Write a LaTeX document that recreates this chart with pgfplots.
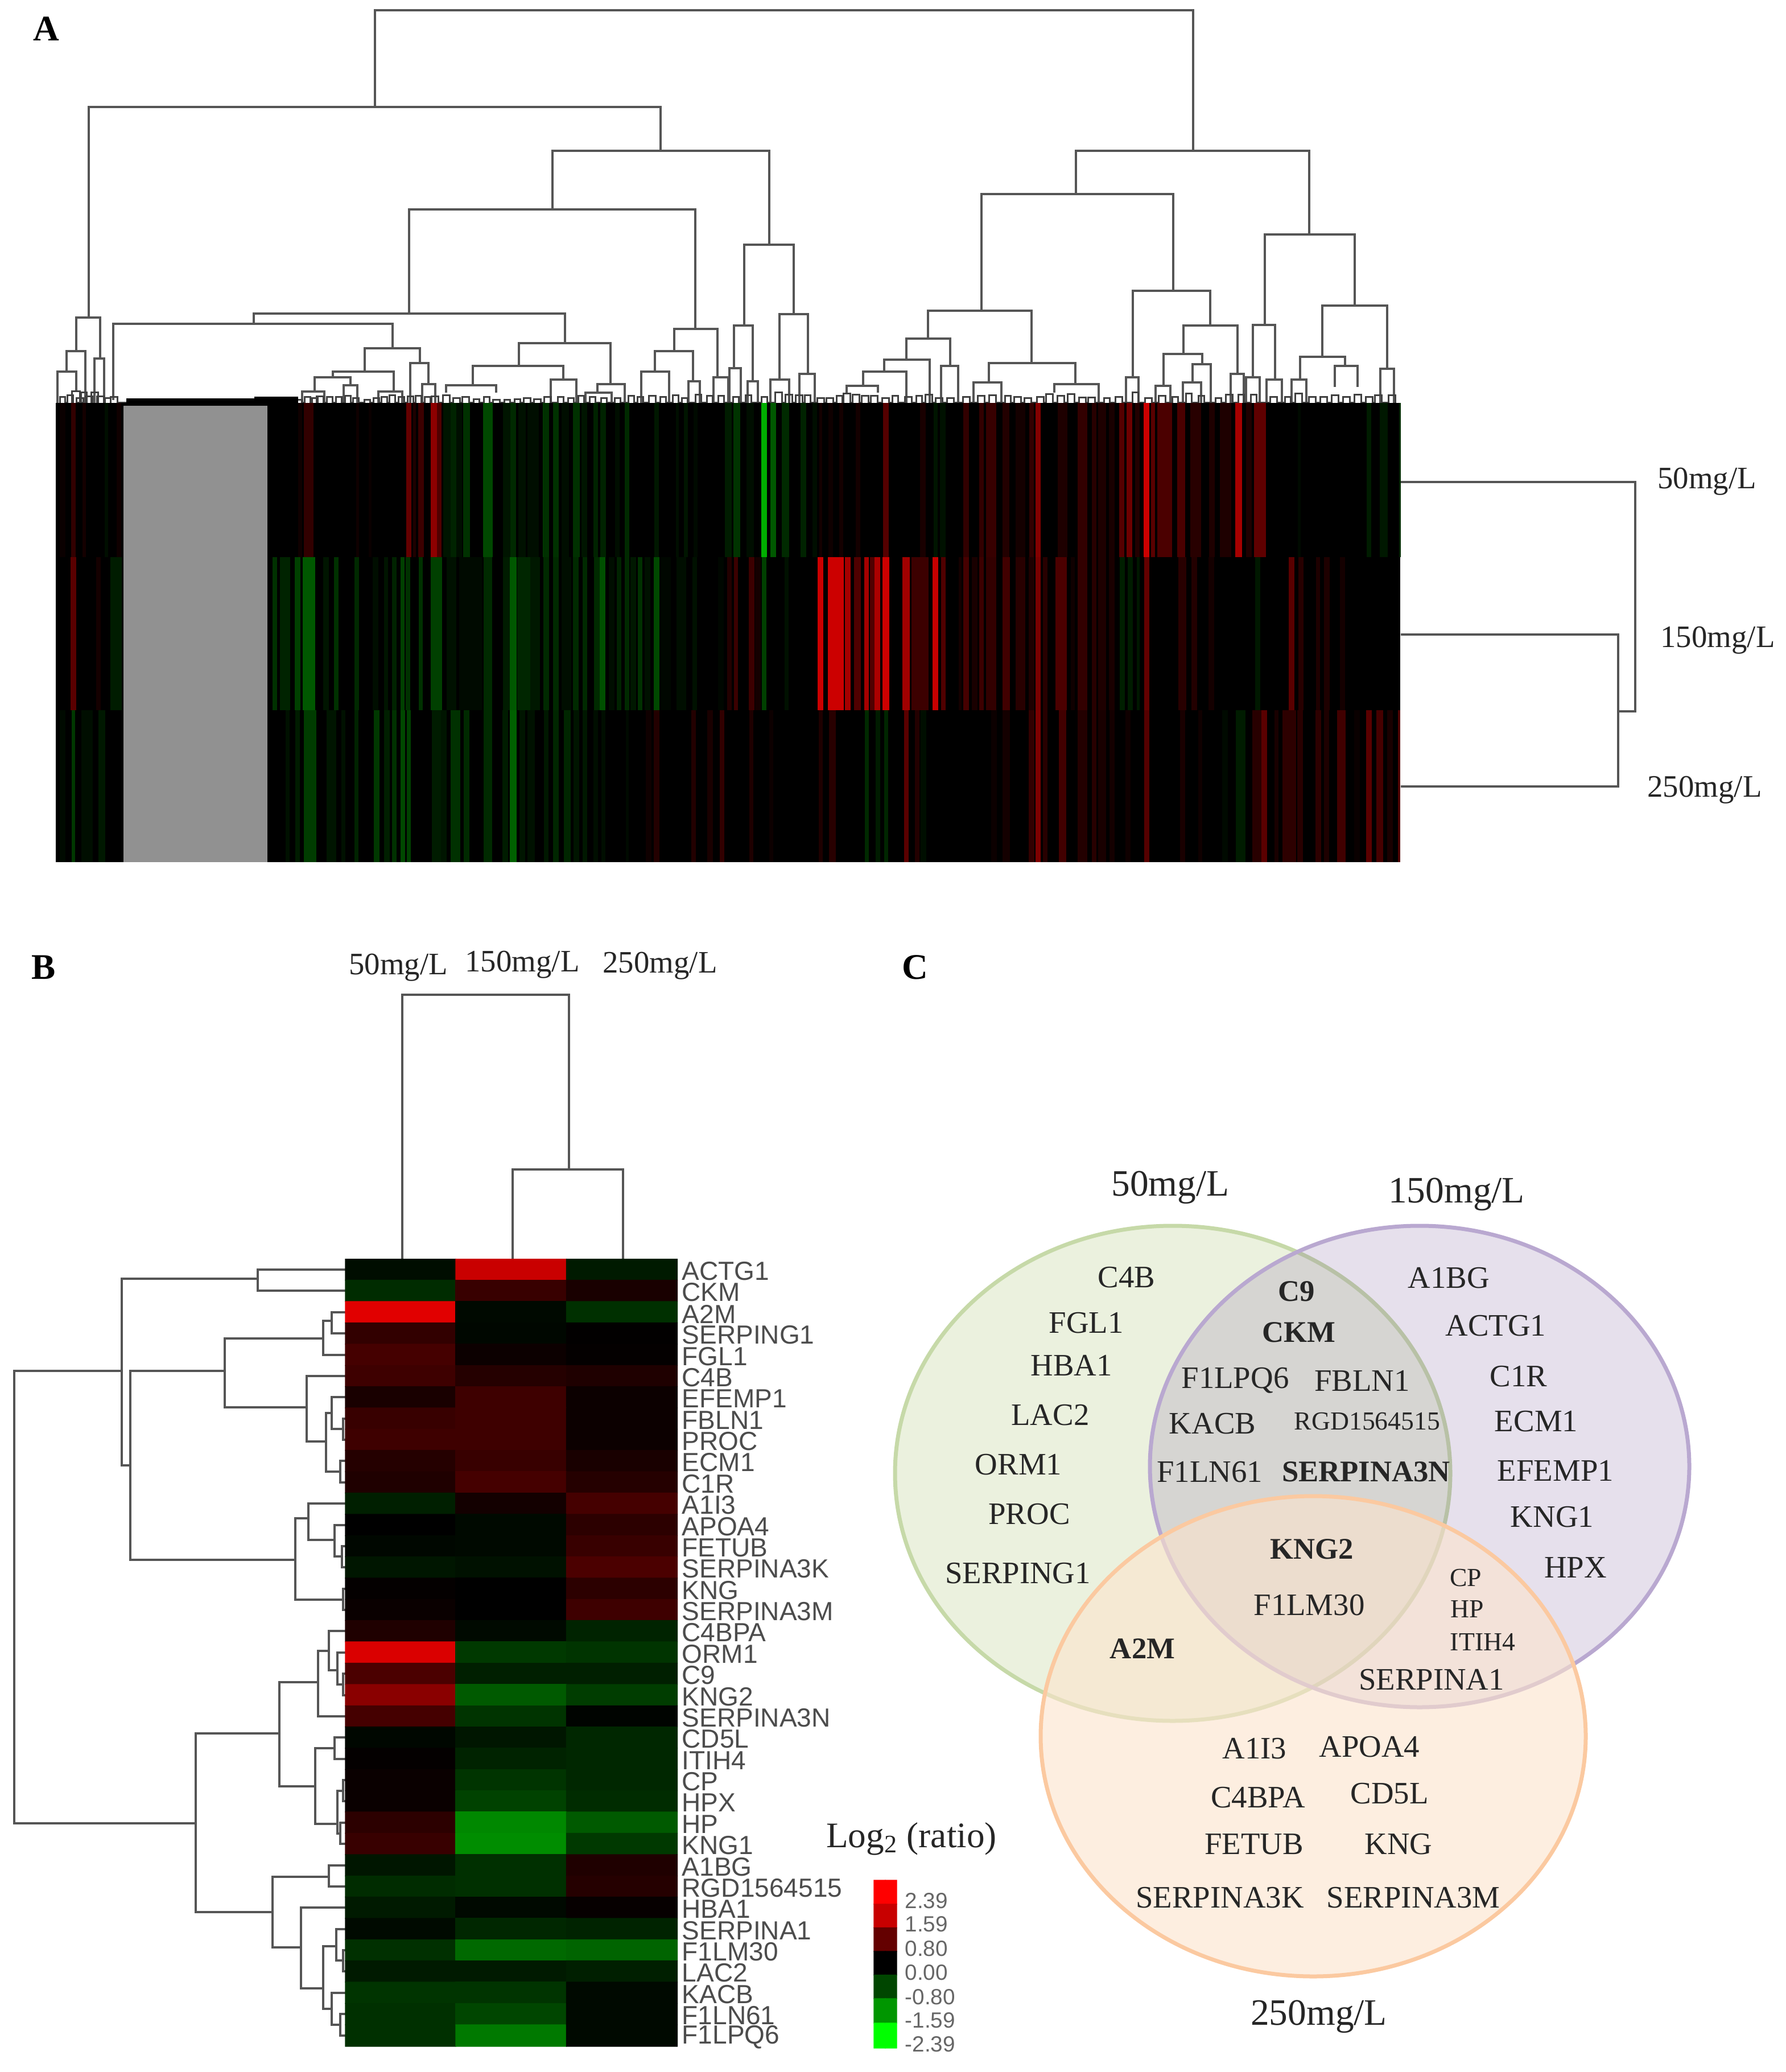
\documentclass[border=0pt]{standalone}
\usepackage{pgfplots}
\usepackage{pgfplotstable}
\usepackage{fontspec}
\pgfplotsset{compat=1.18}
\setmainfont{Liberation Serif}
\newfontfamily\arialf{Liberation Sans}
\definecolor{dend}{HTML}{555555}
\definecolor{greyblock}{HTML}{919191}

% heat map A: non black stripes only, x centre, width, value
\pgfplotstableread{
x w v
110 10 0.1
129 8 0.5
148 6 0.2
187 6 -0.2
209 8 0.15
527 7 0.15
542 17 0.5
628 5 0.15
650 5 0.1
718 9 1.0
728 5 0.3
740 10 0.6
763 12 1.4
772 8 0.8
785 13 -0.3
798 13 -0.5
807 10 -0.2
820 12 -0.7
857 17 -1.0
890 13 -0.3
902 10 -0.6
917 13 -0.25
937 20 -0.2
957 7 -0.9
960 10 -0.7
977 10 -0.7
993 13 -0.2
1013 12 -0.7
1027 10 -0.3
1047 8 -0.5
1060 10 -0.5
1085 8 -0.2
1102 8 -0.6
1154 8 -0.35
1190 5 -0.2
1205 7 -0.3
1222 7 -0.15
1280 12 -0.4
1295 12 -0.75
1318 13 -0.2
1343 10 -2.1
1359 10 -1.2
1380 13 -0.6
1412 10 -0.5
1432 8 -0.2
1442 5 0.2
1460 8 0.15
1478 7 0.2
1508 8 0.2
1557 10 0.85
1622 10 0.25
1644 7 -0.3
1657 10 -0.25
1698 10 0.5
1725 8 0.5
1742 18 0.55
1768 12 0.35
1793 17 0.2
1813 8 0.5
1824 9 1.3
1867 17 0.3
1902 17 0.5
1923 8 0.4
1937 14 0.3
1954 10 0.25
1971 9 0.85
1985 10 1.1
1999 8 0.35
2015 10 2.39
2026 7 0.9
2047 26 0.75
2076 14 0.75
2101 19 0.4
2130 10 0.3
2154 20 0.3
2177 12 1.7
2195 10 0.3
2214 21 0.95
2283 5 -0.15
2406 8 -0.4
2432 14 -0.35
2460 3 -0.6
}\rowfifty
\pgfplotstableread{
x w v
129 10 0.9
173 8 0.2
204 20 -0.4
483 8 -0.7
501 18 -0.5
523 10 -0.9
543 22 -1.2
573 10 -0.3
591 8 -0.7
627 8 -0.6
660 10 -0.2
678 7 -0.3
693 8 -0.5
707 7 -0.9
717 8 -0.7
739 7 -0.7
767 20 -0.9
793 17 -0.25
827 40 -0.15
857 15 -0.6
890 13 -0.4
902 12 -1.2
920 23 -0.55
940 17 -0.35
958 5 -0.6
960 10 -0.6
977 10 -0.6
995 17 -0.2
1012 10 -0.6
1028 8 -0.6
1050 13 -0.6
1059 10 -1.1
1075 10 -0.2
1088 8 -0.5
1102 8 -0.6
1113 10 -0.35
1125 8 -0.7
1138 10 -0.25
1154 10 -1.0
1170 17 -0.1
1197 17 -0.2
1221 8 -0.25
1267 10 -0.1
1282 8 0.35
1293 7 0.6
1321 10 0.6
1332 10 0.2
1343 8 -0.9
1382 7 -0.25
1441 8 2.39
1443 7 2.39
1469 28 2.39
1490 10 1.7
1507 12 0.8
1523 8 1.7
1533 8 0.8
1542 10 1.8
1557 12 2.39
1592 13 1.6
1617 30 0.6
1644 10 2.3
1658 8 0.8
1687 5 0.2
1698 10 0.7
1713 10 0.25
1725 8 0.6
1742 18 0.5
1768 13 0.65
1793 17 0.4
1813 10 0.3
1824 9 1.2
1837 8 0.4
1865 20 0.75
1885 7 0.15
1902 17 0.5
1923 8 0.4
1937 14 0.3
1954 10 0.25
1972 9 -0.45
1986 9 -0.4
2000 5 -0.35
2015 9 1.0
2078 14 0.4
2099 10 0.35
2129 10 0.2
2210 9 -0.35
2270 10 0.9
2286 9 0.4
2316 7 0.3
2332 10 0.3
2359 9 0.2
}\rowonefifty
\pgfplotstableread{
x w v
110 10 -0.15
129 6 -0.8
153 20 -0.2
179 12 -0.35
505 7 -0.25
523 8 -0.4
545 22 -0.85
582 17 -0.3
603 7 -0.25
626 7 -0.5
662 10 -0.8
680 10 -0.45
693 8 -0.7
708 8 -1.0
718 7 -0.9
767 17 -0.4
780 10 -0.3
800 17 -0.7
820 10 -0.6
857 15 -0.6
888 10 -0.4
902 12 -1.3
918 10 -0.3
933 13 -0.25
960 8 -0.35
977 10 -0.55
997 12 -0.55
1013 10 -0.3
1028 8 -0.35
1047 8 -0.2
1060 7 -0.2
1102 5 -0.15
1140 10 0.15
1154 10 0.35
1219 8 0.35
1248 10 0.25
1269 8 0.5
1320 7 0.3
1355 7 0.12
1442 7 0.3
1463 12 0.4
1523 7 -0.6
1543 8 -0.4
1557 7 -0.55
1593 8 0.9
1612 8 0.35
1623 10 -0.2
1747 10 0.12
1768 13 0.2
1813 10 0.5
1824 9 1.25
1837 8 0.4
1867 13 0.65
1902 17 0.35
1923 8 0.4
1937 14 0.25
1954 9 0.2
1982 9 0.15
2015 9 0.85
2078 9 0.25
2109 7 0.15
2153 10 -0.15
2180 17 -0.4
2209 17 0.4
2222 10 0.9
2243 7 0.25
2266 24 0.45
2285 10 0.4
2317 10 0.45
2331 9 0.3
2357 15 0.65
2385 10 0.1
2406 10 0.9
2425 12 0.7
2443 10 0.25
2459 4 0.8
}\rowtwofifty

% texts of panels B and C
\pgfplotstableread{
x y l
1198 2234 ACTG1
1198 2271 CKM
1198 2309 A2M
1198 2346 SERPING1
1198 2384 FGL1
1198 2421 C4B
1198 2458 EFEMP1
1198 2496 FBLN1
1198 2533 PROC
1198 2570 ECM1
1198 2608 C1R
1198 2645 A1I3
1198 2683 APOA4
1198 2720 FETUB
1198 2757 SERPINA3K
1198 2795 KNG
1198 2832 SERPINA3M
1198 2869 C4BPA
1198 2907 ORM1
1198 2944 C9
1198 2982 KNG2
1198 3019 SERPINA3N
1198 3056 CD5L
1198 3094 ITIH4
1198 3131 CP
1198 3168 HPX
1198 3206 HP
1198 3243 KNG1
1198 3281 A1BG
1198 3318 RGD1564515
1198 3355 HBA1
1198 3393 SERPINA1
1198 3430 F1LM30
1198 3467 LAC2
1198 3505 KACB
1198 3542 F1LN61
1198 3580 F1LPQ6
}\genes
\pgfplotstableread{
x y l
1980 2245 C4B
1909 2325 FGL1
1883 2399 HBA1
1846 2487 LAC2
1790 2574 ORM1
1809 2661 PROC
1789 2765 SERPING1
2171 2426 F1LPQ6
2394 2426 FBLN1
2131 2502 KACB
2126 2587 F1LN61
2546 2246 A1BG
2629 2330 ACTG1
2669 2419 C1R
2700 2498 ECM1
2734 2584 EFEMP1
2728 2666 KNG1
2769 2755 HPX
2301 2821 F1LM30
2516 2952 SERPINA1
2205 3073 A1I3
2407 3070 APOA4
2211 3159 C4BPA
2442 3152 CD5L
2204 3241 FETUB
2458 3241 KNG
2144 3335 SERPINA3K
2484 3335 SERPINA3M
700 1700 50mg/L
918 1695 150mg/L
1160 1697 250mg/L
3000 846 50mg/L
3019 1125 150mg/L
2996 1388 250mg/L
}\venn
\pgfplotstableread{
x y l
2057 2087 50mg/L
2560 2099 150mg/L
2318 3544 250mg/L
}\vennheads
\pgfplotstableread{
x y l
2279 2269 C9
2283 2341 CKM
2401 2586 SERPINA3N
2306 2722 KNG2
2008 2897 A2M
}\vennbold
\pgfplotstableread{
x y l
2403 2498 RGD1564515
2576 2773 CP
2579 2828 HP
2606 2885 ITIH4
}\vennsmall
\pgfplotstableread{
x y l
1590 3340 2.39
1590 3381 1.59
1590 3424 0.80
1590 3466 0.00
1590 3509 -0.80
1590 3550 -1.59
1590 3592 -2.39
}\scalelabels

\pgfplotsset{
  dendro/.style={draw=dend, line width=0.045cm, line join=miter, mark=none},
  stripe/.style={scatter, only marks, mark=|, mark size=#1, point meta=\thisrow{v},
    visualization depends on={\thisrow{w} \as \wpx},
    scatter/@pre marker code/.append code={\pgfsetlinewidth{\wpx*0.01cm}}},
  words/.style={only marks, mark=none, point meta=explicit symbolic, nodes near coords,
    nodes near coords style={anchor=center, inner sep=0pt, text=#1}},
  words/.default=black!85,
}

\begin{document}
\begin{tikzpicture}
\useasboundingbox (0,0) rectangle (31.38,36.41);
\begin{axis}[
    at={(0,0)}, anchor=south west,
    scale only axis, width=31.38cm, height=36.41cm,
    xmin=0, xmax=3138, ymin=0, ymax=3641, y dir=reverse,
    hide axis, clip=false,
    unbounded coords=jump,
    point meta min=-2.39, point meta max=2.39,
    colormap={hm}{rgb255(0pt)=(0,255,0); rgb255(80pt)=(0,150,0); rgb255(159pt)=(0,70,0);
      rgb255(239pt)=(0,0,0); rgb255(319pt)=(100,0,0); rgb255(398pt)=(200,0,0); rgb255(478pt)=(255,0,0)},
]

% panel A, column tree
\addplot[dendro] coordinates {
(659,188)(659,18)(2097,18)(2097,265)(0,nan)
(156,558)(156,188)(1161,188)(1161,265)(0,nan)
(134,617)(134,558)(176,558)(176,630)(0,nan)
(117,653)(117,617)(150,617)(150,708)(0,nan)
(101,708)(101,653)(134,653)(134,687)(0,nan)
(166,708)(166,630)(183,630)(183,708)(0,nan)
(971,368)(971,265)(1352,265)(1352,430)(0,nan)
(719,551)(719,368)(1222,368)(1222,578)(0,nan)
(446,569)(446,551)(993,551)(993,603)(0,nan)
(199,703)(199,569)(690,569)(690,612)(0,nan)
(641,653)(641,612)(738,612)(738,638)(0,nan)
(585,663)(585,653)(692,653)(692,688)(0,nan)
(553,688)(553,663)(616,663)(616,677)(0,nan)
(531,708)(531,688)(570,688)(570,708)(0,nan)
(604,708)(604,677)(628,677)(628,708)(0,nan)
(665,708)(665,688)(707,688)(707,708)(0,nan)
(721,708)(721,638)(753,638)(753,675)(0,nan)
(742,708)(742,675)(765,675)(765,708)(0,nan)
(912,643)(912,603)(1073,603)(1073,675)(0,nan)
(831,677)(831,643)(990,643)(990,667)(0,nan)
(784,690)(784,677)(872,677)(872,690)(0,nan)
(968,708)(968,667)(1013,667)(1013,708)(0,nan)
(1050,690)(1050,675)(1098,675)(1098,708)(0,nan)
(1029,708)(1029,690)(1075,690)(1075,708)(0,nan)
(1185,617)(1185,578)(1261,578)(1261,663)(0,nan)
(1151,653)(1151,617)(1218,617)(1218,670)(0,nan)
(1127,708)(1127,653)(1176,653)(1176,708)(0,nan)
(1210,708)(1210,670)(1230,670)(1230,708)(0,nan)
(1254,708)(1254,663)(1280,663)(1280,708)(0,nan)
(1308,572)(1308,430)(1395,430)(1395,552)(0,nan)
(1290,647)(1290,572)(1323,572)(1323,670)(0,nan)
(1282,708)(1282,647)(1302,647)(1302,708)(0,nan)
(1314,708)(1314,670)(1332,670)(1332,708)(0,nan)
(1370,667)(1370,552)(1420,552)(1420,657)(0,nan)
(1354,708)(1354,667)(1387,667)(1387,708)(0,nan)
(1405,708)(1405,657)(1432,657)(1432,708)(0,nan)
(1891,341)(1891,265)(2301,265)(2301,412)(0,nan)
(1725,546)(1725,341)(2062,341)(2062,511)(0,nan)
(1631,595)(1631,546)(1813,546)(1813,638)(0,nan)
(1593,632)(1593,595)(1670,595)(1670,643)(0,nan)
(1554,653)(1554,632)(1634,632)(1634,708)(0,nan)
(1517,678)(1517,653)(1593,653)(1593,708)(0,nan)
(1488,690)(1488,678)(1543,678)(1543,690)(0,nan)
(1654,708)(1654,643)(1684,643)(1684,708)(0,nan)
(1738,672)(1738,638)(1890,638)(1890,675)(0,nan)
(1711,708)(1711,672)(1760,672)(1760,708)(0,nan)
(1853,690)(1853,675)(1931,675)(1931,708)(0,nan)
(1991,663)(1991,511)(2127,511)(2127,572)(0,nan)
(1979,708)(1979,663)(2001,663)(2001,708)(0,nan)
(2080,622)(2080,572)(2175,572)(2175,657)(0,nan)
(2045,678)(2045,622)(2113,622)(2113,640)(0,nan)
(2031,708)(2031,678)(2057,678)(2057,708)(0,nan)
(2096,672)(2096,640)(2128,640)(2128,708)(0,nan)
(2079,708)(2079,672)(2111,672)(2111,708)(0,nan)
(2163,708)(2163,657)(2186,657)(2186,708)(0,nan)
(2223,571)(2223,412)(2381,412)(2381,537)(0,nan)
(2202,663)(2202,571)(2241,571)(2241,667)(0,nan)
(2190,708)(2190,663)(2214,663)(2214,708)(0,nan)
(2226,708)(2226,667)(2253,667)(2253,708)(0,nan)
(2324,627)(2324,537)(2438,537)(2438,648)(0,nan)
(2285,667)(2285,627)(2364,627)(2364,643)(0,nan)
(2270,708)(2270,667)(2296,667)(2296,708)(0,nan)
(2346,680)(2346,643)(2386,643)(2386,680)(0,nan)
(2426,708)(2426,648)(2450,648)(2450,708)
};
% small arches just above the heat map
\addplot[draw=black!75, line width=0.03cm, mark=none] coordinates {
(105,708)(105,698)(114,698)(114,708)(118,708)(118,695)(128,695)(128,708)(126,708)(126,688)(140,688)(140,708)
(134,708)(134,700)(146,700)(146,708)(142,708)(142,690)(152,690)(152,708)(150,708)(150,697)(162,697)(162,708)
(160,708)(160,690)(172,690)(172,708)(170,708)(170,697)(182,697)(182,708)(184,708)(184,700)(194,700)(194,708)
(194,708)(194,698)(206,698)(206,708)(520,708)(520,703)(530,703)(530,708)(535,708)(535,698)(545,698)(545,708)
(548,708)(548,700)(558,700)(558,708)(556,708)(556,697)(568,697)(568,708)(574,708)(574,698)(584,698)(584,708)
(590,708)(590,698)(600,698)(600,708)(606,708)(606,696)(616,696)(616,708)(620,708)(620,700)(630,700)(630,708)
(640,708)(640,703)(650,703)(650,708)(656,708)(656,700)(666,700)(666,708)(670,708)(670,698)(680,698)(680,708)
(684,708)(684,695)(694,695)(694,708)(700,708)(700,698)(710,698)(710,708)(716,708)(716,697)(726,697)(726,708)
(730,708)(730,696)(740,696)(740,708)(746,708)(746,698)(756,698)(756,708)(758,708)(758,697)(770,697)(770,708)
(778,708)(778,695)(790,695)(790,708)(796,708)(796,700)(808,700)(808,708)(812,708)(812,698)(824,698)(824,708)
(832,708)(832,702)(842,702)(842,708)(850,708)(850,698)(860,698)(860,708)(866,708)(866,703)(878,703)(878,708)
(886,708)(886,703)(896,703)(896,708)(904,708)(904,702)(914,702)(914,708)(920,708)(920,700)(932,700)(932,708)
(938,708)(938,702)(950,702)(950,708)(956,708)(956,698)(968,698)(968,708)(980,708)(980,698)(990,698)(990,708)
(998,708)(998,700)(1008,700)(1008,708)(1016,708)(1016,696)(1026,696)(1026,708)(1036,708)(1036,698)(1046,698)(1046,708)
(1056,708)(1056,700)(1066,700)(1066,708)(1080,708)(1080,700)(1090,700)(1090,708)(1104,708)(1104,696)(1114,696)(1114,708)
(1120,708)(1120,698)(1130,698)(1130,708)(1140,708)(1140,696)(1152,696)(1152,708)(1160,708)(1160,698)(1170,698)(1170,708)
(1182,708)(1182,695)(1192,695)(1192,708)(1198,708)(1198,700)(1208,700)(1208,708)(1222,708)(1222,694)(1232,694)(1232,708)
(1242,708)(1242,696)(1252,696)(1252,708)(1262,708)(1262,696)(1272,696)(1272,708)(1288,708)(1288,698)(1298,698)(1298,708)
(1310,708)(1310,695)(1320,695)(1320,708)(1338,708)(1338,698)(1348,698)(1348,708)(1362,708)(1362,690)(1374,690)(1374,708)
(1380,708)(1380,694)(1392,694)(1392,708)(1398,708)(1398,695)(1410,695)(1410,708)(1414,708)(1414,695)(1424,695)(1424,708)
(1436,708)(1436,700)(1448,700)(1448,708)(1452,708)(1452,700)(1464,700)(1464,708)(1470,708)(1470,696)(1480,696)(1480,708)
(1482,708)(1482,692)(1494,692)(1494,708)(1498,708)(1498,694)(1510,694)(1510,708)(1514,708)(1514,696)(1526,696)(1526,708)
(1530,708)(1530,696)(1542,696)(1542,708)(1550,708)(1550,700)(1562,700)(1562,708)(1568,708)(1568,696)(1578,696)(1578,708)
(1590,708)(1590,698)(1602,698)(1602,708)(1610,708)(1610,696)(1620,696)(1620,708)(1626,708)(1626,694)(1638,694)(1638,708)
(1644,708)(1644,700)(1656,700)(1656,708)(1664,708)(1664,700)(1676,700)(1676,708)(1692,708)(1692,698)(1704,698)(1704,708)
(1718,708)(1718,696)(1730,696)(1730,708)(1738,708)(1738,695)(1750,695)(1750,708)(1766,708)(1766,696)(1776,696)(1776,708)
(1782,708)(1782,698)(1794,698)(1794,708)(1800,708)(1800,700)(1812,700)(1812,708)(1822,708)(1822,698)(1834,698)(1834,708)
(1838,708)(1838,693)(1850,693)(1850,708)(1858,708)(1858,696)(1870,696)(1870,708)(1876,708)(1876,693)(1888,693)(1888,708)
(1896,708)(1896,699)(1908,699)(1908,708)(1912,708)(1912,699)(1924,699)(1924,708)(1940,708)(1940,700)(1950,700)(1950,708)
(1960,708)(1960,698)(1972,698)(1972,708)(1990,708)(1990,690)(2000,690)(2000,708)(2012,708)(2012,700)(2024,700)(2024,708)
(2036,708)(2036,696)(2048,696)(2048,708)(2060,708)(2060,698)(2070,698)(2070,708)(2084,708)(2084,692)(2094,692)(2094,708)
(2106,708)(2106,696)(2116,696)(2116,708)(2136,708)(2136,700)(2146,700)(2146,708)(2154,708)(2154,694)(2166,694)(2166,708)
(2176,708)(2176,694)(2186,694)(2186,708)(2198,708)(2198,694)(2208,694)(2208,708)(2232,708)(2232,698)(2244,698)(2244,708)
(2258,708)(2258,698)(2268,698)(2268,708)(2276,708)(2276,692)(2288,692)(2288,708)(2300,708)(2300,698)(2312,698)(2312,708)
(2320,708)(2320,698)(2332,698)(2332,708)(2340,708)(2340,695)(2352,695)(2352,708)(2360,708)(2360,698)(2372,698)(2372,708)
(2380,708)(2380,694)(2392,694)(2392,708)(2400,708)(2400,698)(2412,698)(2412,708)(2416,708)(2416,695)(2428,695)(2428,708)
(2440,708)(2440,695)(2452,695)(2452,708)
};
% the solid bands left of x=524
\addplot[draw=black, line width=0.08cm, mark=none] coordinates {(222,704)(447,704)};
\addplot[draw=black, line width=0.11cm, mark=none] coordinates {(447,702.5)(524,702.5)};

% panel A heat map
\addplot[fill=black, draw=none, mark=none] coordinates {(98,708)(2461,708)(2461,1515)(98,1515)} -- cycle;
\addplot[stripe=1.355cm] table[x=x, y expr=843.5] {\rowfifty};
\addplot[stripe=1.345cm] table[x=x, y expr=1113.5] {\rowonefifty};
\addplot[stripe=1.335cm] table[x=x, y expr=1381.5] {\rowtwofifty};
\addplot[fill=greyblock, draw=none, mark=none] coordinates {(217,713)(470,713)(470,1515)(217,1515)} -- cycle;

% panel A, row tree
\addplot[dendro] coordinates {
(2462,847)(2874,847)(2874,1250)(2844,1250)(0,nan)
(2462,1115)(2844,1115)(2844,1382)(2462,1382)
};

% panel B, trees
\addplot[dendro] coordinates {
(707,2212)(707,1748)(1000,1748)(1000,2055)(0,nan)
(901,2212)(901,2055)(1095,2055)(1095,2212)
};
\addplot[dendro] coordinates {
(214,2409)(25,2409)(25,3204)(344,3204)(0,nan)
(453,2247)(214,2247)(214,2575)(229,2575)(0,nan)
(608,2231)(453,2231)(453,2268)(608,2268)(0,nan)
(395,2409)(229,2409)(229,2741)(519,2741)(0,nan)
(568,2352)(395,2352)(395,2473)(539,2473)(0,nan)
(583,2321)(568,2321)(568,2381)(608,2381)(0,nan)
(608,2306)(583,2306)(583,2343)(608,2343)(0,nan)
(608,2418)(539,2418)(539,2533)(573,2533)(0,nan)
(583,2483)(573,2483)(573,2586)(598,2586)(0,nan)
(608,2455)(583,2455)(583,2511)(603,2511)(0,nan)
(608,2493)(603,2493)(603,2530)(608,2530)(0,nan)
(608,2567)(598,2567)(598,2605)(608,2605)(0,nan)
(542,2668)(519,2668)(519,2811)(603,2811)(0,nan)
(608,2642)(542,2642)(542,2706)(588,2706)(0,nan)
(608,2680)(588,2680)(588,2735)(601,2735)(0,nan)
(608,2717)(601,2717)(601,2754)(608,2754)(0,nan)
(608,2792)(603,2792)(603,2829)(608,2829)(0,nan)
(491,3046)(344,3046)(344,3360)(479,3360)(0,nan)
(559,2956)(491,2956)(491,3139)(554,3139)(0,nan)
(578,2901)(559,2901)(559,3016)(608,3016)(0,nan)
(608,2866)(578,2866)(578,2935)(593,2935)(0,nan)
(608,2904)(593,2904)(593,2960)(603,2960)(0,nan)
(608,2941)(603,2941)(603,2979)(608,2979)(0,nan)
(588,3072)(554,3072)(554,3205)(593,3205)(0,nan)
(608,3053)(588,3053)(588,3091)(608,3091)(0,nan)
(603,3147)(593,3147)(593,3222)(598,3222)(0,nan)
(608,3128)(603,3128)(603,3165)(608,3165)(0,nan)
(608,3203)(598,3203)(598,3240)(608,3240)(0,nan)
(578,3298)(479,3298)(479,3422)(529,3422)(0,nan)
(608,3278)(578,3278)(578,3315)(608,3315)(0,nan)
(608,3352)(529,3352)(529,3494)(568,3494)(0,nan)
(591,3420)(568,3420)(568,3530)(583,3530)(0,nan)
(608,3390)(591,3390)(591,3445)(603,3445)(0,nan)
(608,3427)(603,3427)(603,3464)(608,3464)(0,nan)
(608,3502)(583,3502)(583,3558)(598,3558)(0,nan)
(608,3539)(598,3539)(598,3577)(608,3577)
};

% panel B heat map, 37 proteins by 3 doses
\addplot[matrix plot*, mesh/cols=3, mesh/ordering=x varies, point meta=explicit] coordinates {
(704,2231)[-0.15](898,2231)[1.6](1093,2231)[-0.3]
(704,2268)[-0.5](898,2268)[0.45](1093,2268)[0.2]
(704,2306)[1.95](898,2306)[-0.1](1093,2306)[-0.55]
(704,2343)[0.4](898,2343)[-0.08](1093,2343)[0.02]
(704,2381)[0.55](898,2381)[0.1](1093,2381)[0.03]
(704,2418)[0.5](898,2418)[0.3](1093,2418)[0.25]
(704,2455)[0.2](898,2455)[0.5](1093,2455)[0.1]
(704,2493)[0.45](898,2493)[0.5](1093,2493)[0.1]
(704,2530)[0.5](898,2530)[0.5](1093,2530)[0.1]
(704,2567)[0.3](898,2567)[0.45](1093,2567)[0.2]
(704,2605)[0.25](898,2605)[0.55](1093,2605)[0.3]
(704,2642)[-0.35](898,2642)[0.15](1093,2642)[0.55]
(704,2680)[0.0](898,2680)[-0.1](1093,2680)[0.35]
(704,2717)[-0.08](898,2717)[-0.1](1093,2717)[0.45]
(704,2754)[-0.25](898,2754)[-0.2](1093,2754)[0.6]
(704,2792)[0.03](898,2792)[0.0](1093,2792)[0.35]
(704,2829)[0.08](898,2829)[0.0](1093,2829)[0.5]
(704,2866)[0.25](898,2866)[-0.1](1093,2866)[-0.4]
(704,2904)[1.85](898,2904)[-0.65](1093,2904)[-0.6]
(704,2941)[0.6](898,2941)[-0.35](1093,2941)[-0.35]
(704,2979)[1.1](898,2979)[-1.0](1093,2979)[-0.7]
(704,3016)[0.55](898,3016)[-0.6](1093,3016)[-0.05]
(704,3053)[-0.08](898,3053)[-0.25](1093,3053)[-0.45]
(704,3091)[0.03](898,3091)[-0.4](1093,3091)[-0.45]
(704,3128)[0.08](898,3128)[-0.6](1093,3128)[-0.45]
(704,3165)[0.08](898,3165)[-0.75](1093,3165)[-0.5]
(704,3203)[0.35](898,3203)[-1.45](1093,3203)[-1.0]
(704,3240)[0.45](898,3240)[-1.5](1093,3240)[-0.65]
(704,3278)[-0.25](898,3278)[-0.55](1093,3278)[0.25]
(704,3315)[-0.5](898,3315)[-0.55](1093,3315)[0.3]
(704,3352)[-0.3](898,3352)[-0.1](1093,3352)[0.05]
(704,3390)[-0.12](898,3390)[-0.45](1093,3390)[-0.4]
(704,3427)[-0.55](898,3427)[-1.15](1093,3427)[-1.1]
(704,3464)[-0.3](898,3464)[-0.3](1093,3464)[-0.35]
(704,3502)[-0.6](898,3502)[-0.6](1093,3502)[-0.1]
(704,3539)[-0.55](898,3539)[-0.8](1093,3539)[-0.1]
(704,3577)[-0.55](898,3577)[-1.3](1093,3577)[-0.1]
};
\addplot[words=black!70, nodes near coords style={anchor=west, font=\arialf\fontsize{13.1pt}{15pt}\selectfont}]
  table[x=x, y=y, meta=l] {\genes};

% colour scale
\addplot[matrix plot*, mesh/cols=2, mesh/ordering=x varies, point meta=explicit] coordinates {
(1546,3325)[2.39](1566,3325)[2.39]
(1546,3367)[1.59](1566,3367)[1.59]
(1546,3408)[0.80](1566,3408)[0.80]
(1546,3450)[0](1566,3450)[0]
(1546,3491)[-0.80](1566,3491)[-0.80]
(1546,3533)[-1.59](1566,3533)[-1.59]
(1546,3577)[-2.39](1566,3577)[-2.39]
};
\addplot[words=black!60, nodes near coords style={anchor=west, font=\arialf\fontsize{11pt}{13pt}\selectfont}]
  table[x=x, y=y, meta=l] {\scalelabels};
\node[font=\fontsize{18pt}{20pt}\selectfont, text=black!85] at (axis cs:1602,3231) {Log\textsubscript{2} (ratio)};

% panel C, three sets; the orange one lies over the others and pales them
\fill[color={rgb,255:red,155;green,187;blue,89}, fill opacity=0.2] (axis cs:2061,2589) ellipse [x radius=4.88cm, y radius=4.35cm];
\draw[draw={rgb,255:red,198;green,217;blue,168}, line width=0.07cm] (axis cs:2061,2589) ellipse [x radius=4.88cm, y radius=4.35cm];
\fill[color={rgb,255:red,128;green,100;blue,162}, fill opacity=0.2] (axis cs:2495,2577) ellipse [x radius=4.74cm, y radius=4.23cm];
\draw[draw={rgb,255:red,185;green,168;blue,208}, line width=0.07cm] (axis cs:2495,2577) ellipse [x radius=4.74cm, y radius=4.23cm];
\fill[color={rgb,255:red,252;green,227;blue,204}, fill opacity=0.6] (axis cs:2308,3051) ellipse [x radius=4.79cm, y radius=4.22cm];
\draw[draw={rgb,255:red,251;green,201;blue,160}, line width=0.07cm] (axis cs:2308,3051) ellipse [x radius=4.79cm, y radius=4.22cm];

\addplot[words, nodes near coords style={font=\fontsize{15.6pt}{18pt}\selectfont}] table[x=x, y=y, meta=l] {\venn};
\addplot[words, nodes near coords style={font=\fontsize{18.6pt}{21pt}\selectfont}] table[x=x, y=y, meta=l] {\vennheads};
\addplot[words, nodes near coords style={font=\bfseries\fontsize{15pt}{18pt}\selectfont}] table[x=x, y=y, meta=l] {\vennbold};
\addplot[words, nodes near coords style={font=\fontsize{13pt}{15pt}\selectfont}] table[x=x, y=y, meta=l] {\vennsmall};

\node[font=\bfseries\fontsize{18pt}{20pt}\selectfont] at (axis cs:81,51) {A};
\node[font=\bfseries\fontsize{18pt}{20pt}\selectfont] at (axis cs:77,1700) {B};
\node[font=\bfseries\fontsize{18pt}{20pt}\selectfont] at (axis cs:1608,1700) {C};
\end{axis}
\end{tikzpicture}
\end{document}
